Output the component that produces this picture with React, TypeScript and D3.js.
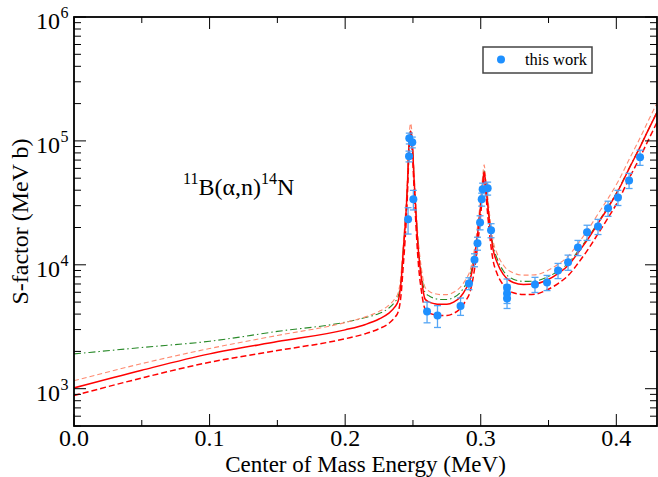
import React from "react";
import * as d3 from "d3";

const curveE = [0, 0.05, 0.1, 0.15, 0.2, 0.215, 0.225, 0.232, 0.2365, 0.2392,
  0.2412, 0.2429, 0.2443, 0.2454, 0.2462, 0.2469, 0.2476, 0.2483, 0.249, 0.2498,
  0.2507, 0.2517, 0.2528, 0.254, 0.2562, 0.2589, 0.262, 0.266, 0.27, 0.275,
  0.28, 0.285, 0.289, 0.292, 0.2945, 0.2965, 0.298, 0.2995, 0.301, 0.3018,
  0.3025, 0.3032, 0.304, 0.3055, 0.3069, 0.309, 0.312, 0.3165, 0.324, 0.3315,
  0.34, 0.3485, 0.357, 0.365, 0.3715, 0.3785, 0.3865, 0.394, 0.4015, 0.4095,
  0.417, 0.4235, 0.43];

const fitBest = [1015, 1410, 1910, 2400, 2985, 3300, 3650, 4050, 4550, 5150,
  7200, 13000, 21000, 33000, 52000, 84000, 108000, 120000, 108000, 84000,
  52000, 33000, 20000, 13000, 7800, 5300, 5000, 4850, 4800, 4800,
  5000, 5500, 6400, 7500, 10000, 14000, 19000, 27000, 40000, 50000,
  56000, 50000, 41000, 28000, 20000, 13500, 10500, 8400, 7200, 6950,
  7000, 7500, 8500, 10000, 12400, 15800, 21600, 29000, 40000, 60000,
  87000, 122000, 170000];

const fitLower = [880, 1220, 1635, 2030, 2530, 2780, 3050, 3350, 3750, 4200,
  5700, 10000, 16500, 27000, 44000, 72000, 96000, 108000, 96000, 72000,
  44000, 27000, 16000, 10200, 6200, 4400, 4100, 3950, 3900, 3900,
  4050, 4450, 5150, 6000, 8000, 11200, 15500, 22500, 34000, 44000,
  50000, 44000, 35000, 23000, 16200, 11000, 8500, 6900, 5950, 5750,
  5800, 6250, 7050, 8300, 10200, 13000, 17800, 24000, 33000, 50000,
  72000, 101000, 141000];

const fitUpper = [1160, 1595, 2110, 2690, 3420, 3800, 4200, 4700, 5300, 6000,
  8400, 15000, 24500, 38000, 60000, 96000, 125000, 139000, 125000, 96000,
  60000, 38000, 23500, 15500, 9400, 6600, 6100, 5850, 5750, 5750,
  6000, 6600, 7650, 8900, 11800, 16400, 22000, 31000, 46000, 57000,
  64000, 57000, 47000, 32500, 23200, 15800, 12400, 10000, 8600, 8250,
  8300, 8900, 10100, 11900, 14700, 18800, 25700, 34500, 47500, 71000,
  103000, 145000, 202000];

const fitGreen = [1910, 2150, 2415, 2900, 3440, 3750, 4050, 4450, 5000, 5600,
  7700, 13800, 22000, 34500, 54000, 86000, 110000, 122000, 110000, 86000,
  54000, 34500, 21500, 14200, 8600, 6000, 5600, 5350, 5250, 5250,
  5450, 6000, 6950, 8100, 10700, 14900, 20000, 28400, 41500, 51500,
  57500, 51500, 42500, 29200, 21000, 14400, 11300, 9000, 7650, 7350,
  7400, 7900, 8900, 10400, 12800, 16200, 22000, 29500, 40500, 60500,
  87500, 122500, 171000];

const dataE = [0.2464, 0.2471, 0.2473, 0.2495, 0.2503, 0.2604, 0.2681, 0.2851, 0.2913, 0.2954,
  0.2976, 0.2995, 0.3007, 0.3014, 0.3051, 0.3076, 0.3194, 0.3194, 0.3194, 0.340,
  0.3489, 0.357, 0.3644, 0.3717, 0.3784, 0.3865, 0.3939, 0.4012, 0.4094, 0.4175];
const dataS = [23300, 75200, 105000, 97600, 33800, 4200, 3900, 4650, 7080, 10960,
  14900, 22000, 33800, 40700, 41500, 19000, 6560, 5870, 5350, 6950,
  7200, 9000, 10500, 13800, 18300, 20400, 28600, 35000, 48000, 73800];
const dataErr = [0.24, 0.1, 0.1, 0.1, 0.18, 0.19, 0.2, 0.16, 0.11, 0.12,
  0.12, 0.13, 0.12, 0.12, 0.12, 0.13, 0.17, 0.17, 0.17, 0.14,
  0.14, 0.14, 0.14, 0.14, 0.14, 0.14, 0.14, 0.14, 0.14, 0.14];

const xTicks = [0, 0.1, 0.2, 0.3, 0.4];
const xTickLabels = ["0.0", "0.1", "0.2", "0.3", "0.4"];
const yDecades = [3, 4, 5, 6];

const W = 658, H = 477;
const L = 74, R = 657, T = 17, B = 426;
const FONT = "'Liberation Serif', 'Times New Roman', serif";

export default function App() {
  const x = d3.scaleLinear().domain([0, 0.43]).range([L, R]);
  const y = d3.scaleLog().domain([500, 1e6]).range([B, T]);

  const mk = (vals: number[]) =>
    d3.line<number>()
      .x((_, i) => x(curveE[i]))
      .y((v) => y(v))
      .curve(d3.curveMonotoneX)(vals) || "";

  const xMinor: number[] = [];
  for (let v = 0.05; v < 0.43; v += 0.1) xMinor.push(+v.toFixed(2));
  const yMinor: number[] = [];
  for (let d = 2; d <= 5; d++) for (let m = 2; m <= 9; m++) {
    const v = m * Math.pow(10, d);
    if (v >= 500 && v < 1e6) yMinor.push(v);
  }

  return (
    <svg width={W} height={H} style={{ position: "absolute", left: 0, top: 0, background: "#fff" }}
      fontFamily={FONT}>
      <defs>
        <clipPath id="plot"><rect x={L} y={T} width={R - L} height={B - T} /></clipPath>
      </defs>
      <rect x={0} y={0} width={W} height={H} fill="#fff" />
      <g clipPath="url(#plot)" fill="none">
        <path d={mk(fitGreen)} stroke="#2a8a2a" strokeWidth={1.1} strokeDasharray="7,3,1.5,3" />
        <path d={mk(fitUpper)} stroke="#ff8a70" strokeWidth={1.1} strokeDasharray="5,3" />
        <path d={mk(fitLower)} stroke="#ff0000" strokeWidth={1.5} strokeDasharray="6,3" />
        <path d={mk(fitBest)} stroke="#ff0000" strokeWidth={1.5} />
      </g>
      <g>
        {dataE.map((e, i) => {
          const cx = x(e);
          const y1 = y(dataS[i] * (1 + dataErr[i]));
          const y0 = y(dataS[i] * (1 - dataErr[i]));
          return (
            <g key={i} stroke="#55a6f5" strokeWidth={1.3}>
              <line x1={cx} x2={cx} y1={y1} y2={y0} />
              <line x1={cx - 3.5} x2={cx + 3.5} y1={y1} y2={y1} />
              <line x1={cx - 3.5} x2={cx + 3.5} y1={y0} y2={y0} />
            </g>
          );
        })}
        {dataE.map((e, i) => (
          <circle key={"c" + i} cx={x(e)} cy={y(dataS[i])} r={4} fill="#1e90ff" />
        ))}
      </g>
      <g stroke="#000" strokeWidth={1}>
        {xTicks.map((t) => (
          <g key={"xt" + t}>
            <line x1={x(t)} x2={x(t)} y1={B} y2={B - 12} />
            <line x1={x(t)} x2={x(t)} y1={T} y2={T + 12} />
          </g>
        ))}
        {xMinor.map((t) => (
          <g key={"xm" + t}>
            <line x1={x(t)} x2={x(t)} y1={B} y2={B - 6} />
            <line x1={x(t)} x2={x(t)} y1={T} y2={T + 6} />
          </g>
        ))}
        {yDecades.map((d) => (
          <g key={"yt" + d}>
            <line x1={L} x2={L + 12} y1={y(Math.pow(10, d))} y2={y(Math.pow(10, d))} />
            <line x1={R} x2={R - 12} y1={y(Math.pow(10, d))} y2={y(Math.pow(10, d))} />
          </g>
        ))}
        {yMinor.map((v) => (
          <g key={"ym" + v}>
            <line x1={L} x2={L + 7} y1={y(v)} y2={y(v)} />
            <line x1={R} x2={R - 7} y1={y(v)} y2={y(v)} />
          </g>
        ))}
      </g>
      <rect x={L} y={T} width={R - L} height={B - T} fill="none" stroke="#000" strokeWidth={1.8} />
      <g fontSize={24} fill="#000">
        {xTicks.map((t, i) => (
          <text key={"xl" + t} x={x(t)} y={446} textAnchor="middle">{xTickLabels[i]}</text>
        ))}
        {yDecades.map((d) => (
          <g key={"yl" + d}>
            <text x={60} y={y(Math.pow(10, d)) + 12} textAnchor="end">10</text>
            <text x={60.5} y={y(Math.pow(10, d)) + 1} fontSize={16}>{d}</text>
          </g>
        ))}
      </g>
      <text x={(L + R) / 2} y={472} textAnchor="middle" fontSize={23}>Center of Mass Energy (MeV)</text>
      <text transform={`translate(28,${(T + B) / 2}) rotate(-90)`} textAnchor="middle" fontSize={24}>S-factor (MeV b)</text>
      <text x={183} y={195} fontSize={24}>
        <tspan fontSize={16} dy={-11}>11</tspan>
        <tspan dy={11}>B(α,n)</tspan>
        <tspan fontSize={16} dy={-11}>14</tspan>
        <tspan dy={11}>N</tspan>
      </text>
      <rect x={483} y={47} width={109} height={26} fill="#fff" stroke="#444" strokeWidth={1.5} />
      <circle cx={501} cy={59.5} r={4} fill="#1e90ff" />
      <text x={525} y={65} fontSize={16.5}>this work</text>
    </svg>
  );
}
